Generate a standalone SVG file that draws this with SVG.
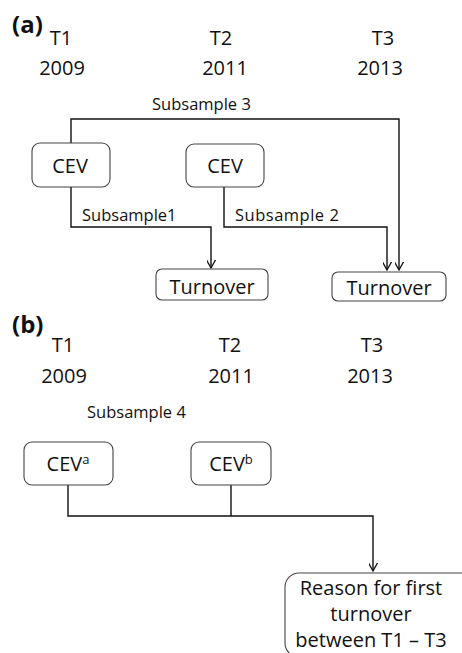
<svg xmlns="http://www.w3.org/2000/svg" width="462" height="653" viewBox="0 0 462 653">
<defs>
<marker id="arr" markerUnits="userSpaceOnUse" markerWidth="16" markerHeight="16" viewBox="-8 -12 16 16" refX="0" refY="0" orient="auto">
<path d="M-9,-5 L0,0 L-9,5" fill="none" stroke="#111" stroke-width="1.3"/>
</marker>
<style>
text{font-family:"Open Sans","Liberation Sans",sans-serif;fill:#111}
.big{font-size:20px;text-anchor:middle}
.lab{font-size:24px;font-weight:bold}
.sub{font-size:16.5px}
.box{fill:#fff;stroke:#444;stroke-width:1.1}
.ln{fill:none;stroke:#111;stroke-width:1.4}
</style>
</defs>
<rect width="462" height="653" fill="#fff"/>
<g id="panel-a-labels">
<text class="lab" x="12" y="33">(a)</text>
<text class="big" x="61" y="45">T1</text>
<text class="big" x="62" y="75">2009</text>
<text class="big" x="221" y="45">T2</text>
<text class="big" x="225" y="75">2011</text>
<text class="big" x="383" y="45">T3</text>
<text class="big" x="380" y="75">2013</text>
</g>
<g id="connectors">
<path class="ln" d="M71,143 V119 H399 V270" marker-end="url(#arr)"/>
<path class="ln" d="M71,187 V227 H211 V268" marker-end="url(#arr)"/>
<path class="ln" d="M224,187 V227 H387 V270" marker-end="url(#arr)"/>
<path class="ln" d="M68,485 V516 H373 V571" marker-end="url(#arr)"/>
<path class="ln" d="M231,485 V516"/>
<text class="sub" x="152" y="110">Subsample 3</text>
<text class="sub" x="82" y="221">Subsample1</text>
<text class="sub" x="235" y="221" letter-spacing="0.5">Subsample 2</text>
<text class="sub" x="87" y="418">Subsample 4</text>
</g>
<g id="cev1">
<rect class="box" x="32" y="143" width="78" height="44" rx="8"/>
<text class="big" x="70" y="173">CEV</text>
</g>
<g id="cev2">
<rect class="box" x="186" y="144" width="78" height="43" rx="8"/>
<text class="big" x="225" y="173">CEV</text>
</g>
<g id="turnover1">
<rect class="box" x="156" y="269" width="112" height="31" rx="6"/>
<text class="big" x="212" y="294">Turnover</text>
</g>
<g id="turnover2">
<rect class="box" x="332" y="272" width="114" height="29" rx="6"/>
<text class="big" x="389" y="295">Turnover</text>
</g>
<g id="panel-b-labels">
<text class="lab" x="12" y="333">(b)</text>
<text class="big" x="63" y="352">T1</text>
<text class="big" x="64" y="383">2009</text>
<text class="big" x="230" y="352">T2</text>
<text class="big" x="231" y="383">2011</text>
<text class="big" x="372" y="352">T3</text>
<text class="big" x="370" y="383">2013</text>
</g>
<g id="ceva">
<rect class="box" x="24" y="442" width="89" height="43" rx="8"/>
<text class="big" x="68" y="471">CEV<tspan font-size="13" dy="-7">a</tspan></text>
</g>
<g id="cevb">
<rect class="box" x="191" y="442" width="80" height="43" rx="8"/>
<text class="big" x="231" y="471">CEV<tspan font-size="13" dy="-7">b</tspan></text>
</g>
<g id="reason">
<rect class="box" x="285" y="573" width="190" height="84" rx="14"/>
<text class="big" x="371" y="595">Reason for first</text>
<text class="big" x="371" y="621">turnover</text>
<text class="big" x="371" y="647">between T1 – T3</text>
</g>
</svg>
